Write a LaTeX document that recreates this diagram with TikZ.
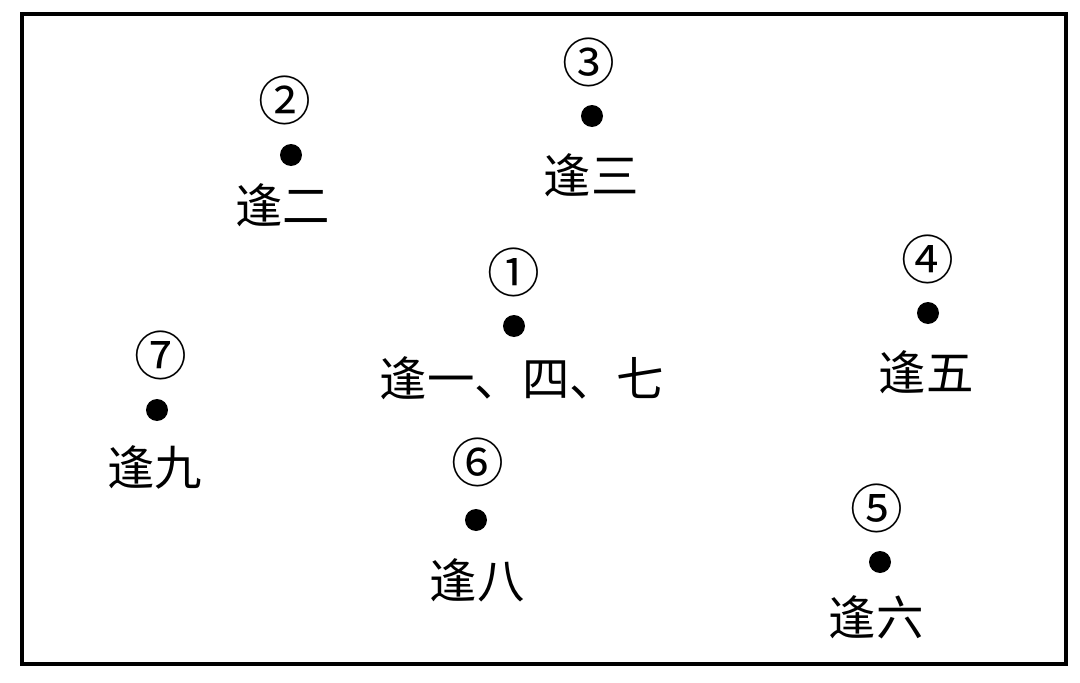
\documentclass[tikz,border=0pt]{standalone}
\usepackage{fontspec}
\newfontfamily\cjk{Noto Sans CJK SC}
\begin{document}
\begin{tikzpicture}[x=0.02cm,y=-0.02cm,
  dot/.style={circle,fill=black,inner sep=0pt,minimum size=0.44cm},
  num/.style={font=\cjk\fontsize{30}{30}\selectfont,inner sep=0pt},
  lab/.style={font=\cjk\fontsize{27}{27}\selectfont,inner sep=0pt}]
\useasboundingbox (0,0) rectangle (1080,683);
% the frame
\draw[line width=0.08cm] (22,14) rectangle (1066,664);

% the points, their numbers and labels
\foreach \n/\x/\y/\nx/\ny/\lx/\ly/\t in {
  one/514/326/514/272/522/378/{逢一、四、七},
  two/291/155/285/100/283/205/逢二,
  three/592/116/589/62/591/175/逢三,
  four/928/313/928/259/926/372/逢五,
  five/880/562/877/508/876/617/逢六,
  six/476/520/478/462/477/580/逢八,
  seven/157/410/161/355/155/467/逢九}{
  \node[dot] (p\n) at (\x,\y) {};
  \node[lab] (l\n) at (\lx,\ly) {\t};
}
\node[num] (none) at (514,272) {①};
\node[num] (ntwo) at (285,100) {②};
\node[num] (nthree) at (589,62) {③};
\node[num] (nfour) at (928,259) {④};
\node[num] (nfive) at (877,508) {⑤};
\node[num] (nsix) at (478,462) {⑥};
\node[num] (nseven) at (161,355) {⑦};
\end{tikzpicture}
\end{document}
